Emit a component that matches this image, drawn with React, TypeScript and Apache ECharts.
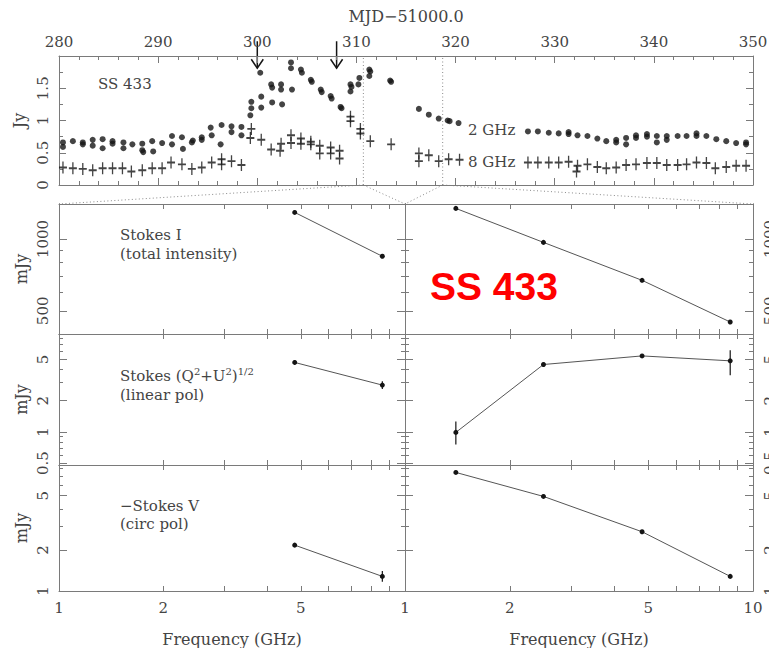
import React, { useEffect, useRef } from "react";
import * as echarts from "echarts";

// ---------------- Data ----------------
// Top panel: MJD-51000 vs flux density (Jy)
const ghz2Points: [number, number][] = [
  [280.4, 0.66], [280.4, 0.59], [281.4, 0.68], [282.4, 0.66], [282.4, 0.63],
  [283.4, 0.70], [283.4, 0.61], [284.4, 0.71], [284.4, 0.57], [285.4, 0.68],
  [285.4, 0.64], [286.5, 0.66], [286.5, 0.57], [287.4, 0.63], [288.4, 0.64],
  [288.4, 0.54], [288.5, 0.51], [289.4, 0.68], [289.5, 0.52], [290.4, 0.65],
  [291.4, 0.76], [291.4, 0.63], [292.4, 0.74], [292.5, 0.56], [293.4, 0.66],
  [293.5, 0.69], [294.4, 0.70], [294.4, 0.74], [295.3, 0.89], [295.4, 0.77],
  [296.4, 0.93], [296.3, 0.63], [297.4, 0.91], [297.4, 0.82], [298.4, 0.90],
  [298.4, 0.77], [299.3, 1.08], [299.4, 1.19], [299.4, 1.29], [300.3, 1.74],
  [300.4, 1.37], [300.4, 1.20], [301.4, 1.56], [301.5, 1.51], [301.5, 1.28],
  [302.4, 1.56], [302.4, 1.48], [302.5, 1.25], [303.4, 1.90], [303.4, 1.81],
  [303.5, 1.48], [304.4, 1.79], [304.5, 1.74], [305.4, 1.63], [305.5, 1.60],
  [306.4, 1.48], [306.5, 1.44], [307.4, 1.38], [307.5, 1.34], [308.4, 1.21],
  [308.5, 1.19], [309.4, 1.56], [309.5, 1.52], [309.4, 1.45], [310.3, 1.66],
  [310.2, 1.56], [311.3, 1.79], [311.4, 1.76], [311.3, 1.69], [313.4, 1.62],
  [313.5, 1.60], [316.3, 1.18], [317.3, 1.09], [318.3, 1.03], [319.2, 1.00],
  [319.4, 0.99], [320.3, 0.96], [327.3, 0.83], [328.3, 0.83], [329.4, 0.81],
  [330.4, 0.80], [331.4, 0.82], [331.4, 0.79], [332.3, 0.77], [333.3, 0.76],
  [334.3, 0.72], [335.2, 0.68], [336.2, 0.70], [336.2, 0.66], [337.2, 0.73],
  [337.2, 0.63], [338.2, 0.77], [338.2, 0.73], [339.3, 0.79], [339.3, 0.75],
  [340.3, 0.76], [340.3, 0.66], [341.3, 0.76], [341.3, 0.70], [342.4, 0.76],
  [343.3, 0.76], [344.3, 0.80], [344.3, 0.76], [345.3, 0.76], [346.3, 0.71],
  [347.3, 0.68], [348.3, 0.65], [349.3, 0.66], [349.3, 0.63],
];

const ghz8Points: [number, number][] = [
  [280.4, 0.27], [281.4, 0.26], [282.4, 0.25], [283.4, 0.23], [284.4, 0.26],
  [285.4, 0.26], [286.4, 0.26], [287.3, 0.21], [288.4, 0.23], [289.4, 0.26],
  [290.4, 0.26], [291.3, 0.35], [292.4, 0.32], [293.4, 0.25], [294.4, 0.27],
  [295.4, 0.35], [296.4, 0.40], [296.4, 0.32], [297.4, 0.37], [298.4, 0.31],
  [299.4, 0.87], [299.3, 0.73], [300.4, 0.70], [301.4, 0.55], [302.4, 0.64],
  [302.3, 0.53], [303.4, 0.77], [303.4, 0.65], [304.4, 0.72], [304.4, 0.64],
  [305.4, 0.67], [305.4, 0.63], [306.3, 0.61], [306.3, 0.49], [307.4, 0.58],
  [307.4, 0.49], [308.3, 0.53], [308.3, 0.41], [309.4, 1.06], [309.4, 0.99],
  [310.4, 0.87], [310.4, 0.80], [311.4, 0.68], [313.5, 0.63], [316.3, 0.49],
  [316.3, 0.37], [317.3, 0.46], [318.3, 0.37], [319.3, 0.40], [320.4, 0.39],
  [327.3, 0.35], [328.3, 0.35], [329.4, 0.35], [330.4, 0.35], [331.4, 0.36],
  [332.3, 0.30], [332.2, 0.21], [333.3, 0.32], [334.3, 0.28], [335.2, 0.26],
  [336.2, 0.27], [337.2, 0.31], [338.2, 0.32], [339.3, 0.34], [340.3, 0.34],
  [341.3, 0.31], [342.4, 0.31], [343.3, 0.32], [344.3, 0.35], [345.3, 0.34],
  [346.2, 0.26], [347.3, 0.28], [348.3, 0.30], [349.3, 0.30],
];

const arrowEpochs = [300.0, 308.0];
const arrowTipFlux = 1.81;
const zoomEpochs = [310.7, 318.7];

// Bottom panels: frequency (GHz) spectra
const freqLeft = [4.8, 8.6];
const freqRight = [1.4, 2.5, 4.8, 8.6];
const stokesILeft = [1291, 846];
const stokesIRight = [1342, 967, 671, 449];
const linPolLeft = [4.68, 2.83];
const linPolRight = [0.99, 4.47, 5.41, 4.85];
const linPolErrLeft: ([number, number] | null)[] = [[4.45, 4.92], [2.6, 3.08]];
const linPolErrRight: ([number, number] | null)[] = [[0.755, 1.26], null, null, [3.53, 6.14]];
const circPolLeft = [2.17, 1.28];
const circPolErrLeft: ([number, number] | null)[] = [null, [1.17, 1.4]];
const circPolRight = [7.41, 4.94, 2.72, 1.28];

// Tick values
const freqTickMinor = [2, 3, 4, 5, 6, 7, 8, 9];
const freqLabelsLeft = [1, 2, 5];
const freqLabelsRight = [1, 2, 5, 10];
const stokesIMajor = [500, 1000];
const stokesIMinor = [600, 700, 800, 900];
const linPolMajor = [0.5, 1, 2, 5];
const linPolMinor = [0.6, 0.7, 0.8, 0.9, 3, 4, 6, 7, 8];
const circPolMajor = [1, 2, 5];
const circPolMinor = [3, 4, 6, 7, 8];

// ---------------- Styling / layout ----------------
const FONT = "DejaVu Serif";
const TEXT = "#444";
const FRAME = "#7a7a7a";
const INK = "#151515";

const TOP_GRID = { left: 59, top: 56, width: 694, height: 129 };
const COLS = [
  { left: 59, width: 346 },
  { left: 405, width: 348 },
];
const ROWS = [
  { top: 204, height: 130 },
  { top: 334, height: 131 },
  { top: 465, height: 126 },
];

const labelStyle = { fontFamily: FONT, fontSize: 15, color: TEXT };
const nameStyle = { fontFamily: FONT, fontSize: 16, color: TEXT };
const axisLine = { show: true, onZero: false, lineStyle: { color: FRAME, width: 1 } };
const fmt = (v: number) => String(Math.round(v * 1000) / 1000);

function logAxis(
  gridIndex: number,
  position: string,
  min: number,
  max: number,
  ticks: number[],
  tickLen: number,
  labels: number[] | null,
  extra: any = {}
) {
  return {
    type: "log",
    logBase: 10,
    gridIndex,
    position,
    min,
    max,
    axisLine,
    axisTick: { show: true, inside: true, length: tickLen, customValues: ticks, lineStyle: { color: FRAME } },
    axisLabel: labels
      ? { show: true, customValues: labels, formatter: fmt, ...labelStyle, ...(extra.label || {}) }
      : { show: false },
    splitLine: { show: false },
    minorTick: { show: false },
    ...(extra.axis || {}),
  };
}

function buildOption() {
  const grid: any[] = [];
  const xAxis: any[] = [];
  const yAxis: any[] = [];
  const series: any[] = [];

  // ---- Top panel ----
  grid.push({ ...TOP_GRID, containLabel: false, outerBoundsMode: "none" });
  const topX = {
    type: "value",
    gridIndex: 0,
    min: 280,
    max: 350,
    interval: 10,
    axisLine,
    axisTick: { show: true, inside: true, length: 7, lineStyle: { color: FRAME } },
    minorTick: { show: true, splitNumber: 5, length: 4, lineStyle: { color: FRAME } },
    splitLine: { show: false },
  };
  xAxis.push({
    ...topX,
    position: "top",
    axisLabel: { ...labelStyle, margin: 7 },
    name: "MJD\u221251000.0",
    nameLocation: "middle",
    nameGap: 32,
    nameTextStyle: nameStyle,
  });
  xAxis.push({ ...topX, position: "bottom", axisLabel: { show: false } });
  const topY = {
    type: "value",
    gridIndex: 0,
    min: 0,
    max: 2,
    interval: 0.5,
    axisLine,
    axisTick: { show: true, inside: true, length: 7, lineStyle: { color: FRAME } },
    minorTick: { show: true, splitNumber: 2, length: 4, lineStyle: { color: FRAME } },
    splitLine: { show: false },
  };
  yAxis.push({
    ...topY,
    position: "left",
    axisLabel: { ...labelStyle, rotate: 90, margin: 9, formatter: (v: number) => (v >= 2 ? "" : fmt(v)) },
    name: "Jy",
    nameLocation: "middle",
    nameGap: 30,
    nameTextStyle: nameStyle,
  });
  yAxis.push({ ...topY, position: "right", axisLabel: { show: false } });

  series.push({
    type: "scatter",
    name: "2 GHz",
    xAxisIndex: 0,
    yAxisIndex: 0,
    symbol: "circle",
    symbolSize: 6,
    itemStyle: { color: INK },
    data: ghz2Points,
    silent: true,
  });
  series.push({
    type: "scatter",
    name: "8 GHz",
    xAxisIndex: 0,
    yAxisIndex: 0,
    symbol: "path://M4,0L4,12M0,6L8,6",
    symbolSize: [8, 12],
    itemStyle: { color: "rgba(0,0,0,0)", borderColor: INK, borderWidth: 1.6 },
    data: ghz8Points,
    silent: true,
  });

  // ---- Bottom panels ----
  const rowDefs = [
    { min: 400, max: 1400, major: stokesIMajor, minor: stokesIMinor, left: stokesILeft, right: stokesIRight, errL: null, errR: null },
    { min: 0.48, max: 8.8, major: linPolMajor, minor: linPolMinor, left: linPolLeft, right: linPolRight, errL: linPolErrLeft, errR: linPolErrRight },
    { min: 1, max: 8.4, major: circPolMajor, minor: circPolMinor, left: circPolLeft, right: circPolRight, errL: circPolErrLeft, errR: null },
  ];

  rowDefs.forEach((rd, r) => {
    COLS.forEach((col, c) => {
      const gi = grid.length;
      grid.push({ left: col.left, width: col.width, top: ROWS[r].top, height: ROWS[r].height, containLabel: false, outerBoundsMode: "none" });
      const isBottom = r === 2;
      // x axes
      const xi = xAxis.length;
      xAxis.push(
        logAxis(gi, "bottom", 1, 10, freqTickMinor, 5, isBottom ? (c === 0 ? freqLabelsLeft : freqLabelsRight) : null, {
          label: { margin: 9 },
          axis: isBottom
            ? { name: "Frequency (GHz)", nameLocation: "middle", nameGap: 40, nameTextStyle: nameStyle }
            : {},
        })
      );
      xAxis.push(logAxis(gi, "top", 1, 10, freqTickMinor, 5, null));
      // y axes
      const yi = yAxis.length;
      const labelSide = c === 0 ? "left" : "right";
      const otherSide = c === 0 ? "right" : "left";
      yAxis.push(
        logAxis(gi, labelSide, rd.min, rd.max, rd.major, 8, rd.major, {
          label: { rotate: 90, margin: 9 },
          axis: c === 0 ? { name: "mJy", nameLocation: "middle", nameGap: 30, nameTextStyle: nameStyle } : {},
        })
      );
      yAxis.push(logAxis(gi, labelSide, rd.min, rd.max, rd.minor, 4, null));
      yAxis.push(logAxis(gi, otherSide, rd.min, rd.max, rd.major, 8, null));
      yAxis.push(logAxis(gi, otherSide, rd.min, rd.max, rd.minor, 4, null));

      const freqs = c === 0 ? freqLeft : freqRight;
      const vals = c === 0 ? rd.left : rd.right;
      const errs = c === 0 ? rd.errL : rd.errR;
      series.push({
        type: "line",
        xAxisIndex: xi,
        yAxisIndex: yi,
        data: freqs.map((f, i) => [f, vals[i]]),
        symbol: "circle",
        symbolSize: 5,
        itemStyle: { color: INK },
        lineStyle: { color: "#555", width: 1 },
        silent: true,
        z: 3,
      });
      if (errs) {
        series.push({
          type: "custom",
          xAxisIndex: xi,
          yAxisIndex: yi,
          silent: true,
          z: 4,
          encode: { x: 0, y: [1, 2] },
          data: freqs
            .map((f, i) => (errs[i] ? [f, errs[i]![0], errs[i]![1]] : null))
            .filter((d) => d !== null),
          renderItem: (_p: any, api: any) => {
            const a = api.coord([api.value(0), api.value(1)]);
            const b = api.coord([api.value(0), api.value(2)]);
            return {
              type: "line",
              shape: { x1: a[0], y1: a[1], x2: b[0], y2: b[1] },
              style: { stroke: INK, lineWidth: 1.2 },
            };
          },
        });
      }
    });
  });

  return { animation: false, grid, xAxis, yAxis, series };
}

function buildGraphics(chart: echarts.ECharts) {
  const toPx = (v: [number, number]) =>
    chart.convertToPixel({ xAxisIndex: 0, yAxisIndex: 0 }, v) as unknown as number[];
  const g: any[] = [];
  const dotted = { stroke: "#8a8a8a", lineWidth: 1, lineDash: [1, 2.5] };
  const rowTop = ROWS[0].top;

  // vertical dotted epoch lines and zoom fans
  zoomEpochs.forEach((e, k) => {
    const b = toPx([e, 0]);
    const t = toPx([e, 2]);
    g.push({ type: "line", shape: { x1: b[0], y1: b[1], x2: t[0], y2: t[1] }, style: dotted, silent: true });
    const col = COLS[k];
    g.push({ type: "line", shape: { x1: b[0], y1: b[1], x2: col.left, y2: rowTop }, style: dotted, silent: true });
    g.push({ type: "line", shape: { x1: b[0], y1: b[1], x2: col.left + col.width, y2: rowTop }, style: dotted, silent: true });
  });

  // arrows
  arrowEpochs.forEach((e) => {
    const p = toPx([e, arrowTipFlux]);
    g.push({ type: "line", shape: { x1: p[0], y1: p[1] - 27, x2: p[0], y2: p[1] }, style: { stroke: INK, lineWidth: 1.5 }, silent: true });
    g.push({
      type: "polyline",
      shape: { points: [[p[0] - 6, p[1] - 9], [p[0], p[1]], [p[0] + 6, p[1] - 9]] },
      style: { stroke: INK, lineWidth: 1.5, fill: "none" },
      silent: true,
    });
  });

  const txt = (text: string, x: number, y: number) => ({
    type: "text",
    x,
    y,
    silent: true,
    style: { text, fontFamily: FONT, fontSize: 15, fill: TEXT, align: "left", verticalAlign: "middle" },
  });
  g.push(txt("SS 433", 98, 84));
  g.push(txt("2 GHz", 468, 130));
  g.push(txt("8 GHz", 468, 162));
  g.push(txt("Stokes I", 120, 235));
  g.push(txt("(total intensity)", 120, 254));
  g.push({
    type: "text",
    x: 120,
    y: 375,
    silent: true,
    style: {
      text: "{b|Stokes (Q}{s|2}{b|+U}{s|2}{b|)}{s|1/2}",
      fill: TEXT,
      align: "left",
      verticalAlign: "middle",
      rich: {
        b: { fontFamily: FONT, fontSize: 15, fill: TEXT, lineHeight: 17, verticalAlign: "bottom" },
        s: { fontFamily: FONT, fontSize: 10, fill: TEXT, lineHeight: 10, verticalAlign: "top" },
      },
    },
  });
  g.push(txt("(linear pol)", 120, 395));
  g.push(txt("\u2212Stokes V", 120, 506));
  g.push(txt("(circ pol)", 120, 524));
  g.push({
    type: "text",
    x: 430,
    y: 286,
    silent: true,
    z: 100,
    style: {
      text: "SS 433",
      fontFamily: "Liberation Sans",
      fontWeight: "bold",
      fontSize: 39,
      fill: "#ff0000",
      align: "left",
      verticalAlign: "middle",
    },
  });
  return g;
}

export default function App() {
  const ref = useRef<HTMLDivElement>(null);
  useEffect(() => {
    if (!ref.current) return;
    const chart = echarts.init(ref.current, null, { renderer: "svg" });
    chart.setOption(buildOption() as any);
    chart.setOption({ graphic: buildGraphics(chart) } as any);
    return () => chart.dispose();
  }, []);
  return (
    <div
      ref={ref}
      style={{ position: "absolute", left: 0, top: 0, width: 769, height: 648, background: "#fff" }}
    />
  );
}
